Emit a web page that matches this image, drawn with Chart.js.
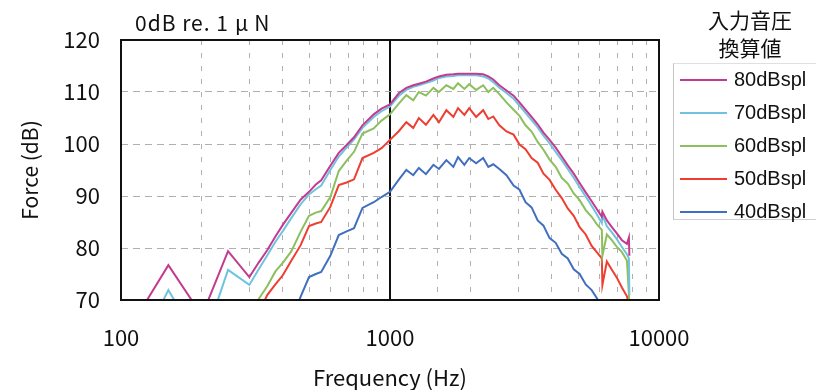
<!DOCTYPE html>
<html>
<head>
<meta charset="utf-8">
<script src="https://cdn.jsdelivr.net/npm/chart.js"></script>
<style>
  body { margin: 0; background: #fff; }
  #wrap { position: relative; width: 817px; height: 390px; font-family: "Noto Sans CJK JP", "Liberation Sans", sans-serif; color: #111; }
  #chart { position: absolute; left: 0; top: 0; }
  .ttl { position: absolute; left: 135px; top: 9px; font-size: 21px; line-height: 26px; letter-spacing: 1px; white-space: nowrap; }
  .ttl b { font-weight: normal; padding: 0 5px 0 6px; }
  .lgt { position: absolute; left: 690px; width: 120px; text-align: center; font-size: 21px; line-height: 28px; }
  .lgbox { position: absolute; left: 673px; top: 63px; width: 142px; height: 155px; border-left: 1px solid #c4c4c4; border-top: 1px solid #e0e0e0; border-bottom: 1px solid #d0d0d0; }
  .row { position: absolute; left: 6px; height: 24px; }
  .row i { position: absolute; left: 0; top: 11px; width: 47px; height: 2px; }
  .row span { position: absolute; left: 54px; top: -2px; font-size: 20px; line-height: 26px; font-family: "Liberation Sans", sans-serif; }
</style>
</head>
<body>
<div id="wrap">
  <canvas id="chart" width="817" height="390"></canvas>
  <div class="ttl">0dB re. 1<b>μ</b>N</div>
  <div class="lgt" style="top:5px">入力音圧</div>
  <div class="lgt" style="top:33px">換算値</div>
  <div class="lgbox" id="legend"></div>
</div>
<script>
// frequency points (Hz)
const freq = [120,150,200,250,300,325,350,375,400,430,
  465,500,530,555,600,645,690,735,790,870,
  930,1000,1080,1150,1220,1280,1360,1450,1520,1620,
  1720,1790,1890,1970,2090,2220,2320,2420,2550,2710,
  2880,3030,3190,3360,3540,3720,3920,4130,4350,4580,
  4820,5070,5340,5620,5870,6130,6160,6400,6680,6970,
  7280,7600,7730,7760];

const spl80 = [68.5,76.7,67,79.4,74.4,77.2,79.6,82.2,84.5,86.8,
  89.3,90.8,92.2,93,95.8,98.3,99.8,101.3,103.6,105.7,
  106.8,107.6,109.8,110.8,111.3,111.6,112,112.6,113,113.3,
  113.4,113.5,113.5,113.5,113.5,113.4,113,112.4,111.3,110.3,
  109.3,108,106.6,105.2,103.8,102.2,100.8,99.3,97.6,95.9,
  94.3,92.5,90.7,89,87.5,86,87,85.3,84,82.8,
  81.5,80.8,82,78.5];

const spl70 = [62,71.9,61,75.8,72.9,75.9,78.6,81.2,83.3,85.8,
  88.4,90.3,91.3,92,95,97.6,99.3,100.9,103.1,105.2,
  106.3,107.2,109.3,110.4,111,111.3,111.7,112.2,112.7,113,
  113.1,113.2,113.2,113.2,113.2,113,112.6,111.9,110.8,109.8,
  108.7,107.4,106,104.6,103.2,101.6,100.1,98.5,96.9,95.2,
  93.5,91.7,89.9,88.1,86.5,84.8,86.3,84.2,83,81.7,
  80.2,78.8,78,71];

const spl60 = [null,null,null,null,66.5,70.2,72.7,75.5,77.2,79.4,
  83.1,86.2,86.8,87.1,89.8,94.8,96.8,98.5,102,103,
  104.5,105.7,107.8,109.4,108.4,110,109.3,110.8,110,111.3,
  110.6,111.7,110.6,111.5,110.4,111.3,110,110.8,109.6,108,
  106.6,105.4,103.6,102.4,100.4,98.9,97,95.6,93.5,92.4,
  90.5,89.2,87.3,86,84.6,83.5,78.5,82.6,81.5,80.2,
  79.2,77.6,71,69];

const spl50 = [null,null,null,null,64,67.5,71,73,74.8,77.6,
  80.5,84.2,84.7,85,87.9,92.1,92.6,93.2,97.3,98.3,
  99.2,100.8,102.5,104.2,103.1,105,103.7,105.6,104.2,106.5,
  105.2,106.9,105.6,106.9,105.2,106.5,104.8,105.3,103.6,102.4,
  101.8,99.9,99,97.3,96.4,94.3,93.1,91.2,89.6,87.6,
  86.2,84,82.6,80.4,79.2,78,72.9,77.4,75.8,74.3,
  72.4,70.7,69,68];

const spl40 = [null,null,null,null,null,null,null,null,null,66,
  70.6,74.4,75,75.4,78.5,82.5,83.2,83.8,87.7,88.8,
  89.8,90.8,93.2,95,94,95.4,94.2,96,95.2,96.9,
  95.6,97.5,96,97.3,96.3,97.3,95.6,96.1,95.2,94,
  92,91.2,88.8,87.8,85.3,84.3,81.9,81,78.9,78,
  75.9,75,73,71.9,70.4,68.5,null,null,null,null,
  null,null,null,null];

const labels = ['80dBspl','70dBspl','60dBspl','50dBspl','40dBspl'];
const colors = ['#c23b8e','#70c3e0','#8cbf5e','#ee3e31','#416fbf'];
const series = [spl80, spl70, spl60, spl50, spl40];

const FONT = '"Noto Sans CJK JP", "Liberation Sans", sans-serif';

// legend (html)
const lg = document.getElementById('legend');
labels.forEach((l, i) => {
  const r = document.createElement('div');
  r.className = 'row';
  r.style.top = (4 + i * 33) + 'px';
  r.innerHTML = '<i style="background:' + colors[i] + '"></i><span>' + l + '</span>';
  lg.appendChild(r);
});

const frame = {
  id: 'frame',
  afterDatasetsDraw(chart) {
    const a = chart.chartArea, c = chart.ctx;
    c.save();
    c.strokeStyle = '#111';
    c.lineWidth = 2;
    c.strokeRect(a.left, a.top, a.right - a.left, a.bottom - a.top);
    c.restore();
  }
};

const isDecade = v => Math.abs(Math.log10(v) - Math.round(Math.log10(v))) < 1e-9;

new Chart(document.getElementById('chart'), {
  type: 'line',
  data: {
    datasets: series.map((s, i) => ({
      label: labels[i],
      data: freq.map((f, j) => ({ x: f, y: s[j] })),
      borderColor: colors[i],
      borderWidth: 2,
      pointRadius: 0,
      tension: 0,
      spanGaps: false
    }))
  },
  options: {
    responsive: false,
    animation: false,
    layout: { padding: { left: 0, right: 158, top: 40, bottom: 0 } },
    plugins: { legend: { display: false }, tooltip: { enabled: false } },
    scales: {
      x: {
        type: 'logarithmic',
        min: 100, max: 10000,
        afterFit(s) { s.height = 90; },
        grid: {
          drawTicks: false,
          color: c => isDecade(c.tick.value) ? (c.tick.value === 1000 ? '#111' : 'rgba(0,0,0,0)') : '#b0b0b0',
          lineWidth: c => c.tick.value === 1000 ? 2 : 1
        },
        border: { display: false, dash: c => (c.tick && c.tick.value === 1000) ? [] : [5, 8] },
        ticks: {
          autoSkip: false, maxRotation: 0, padding: 24,
          color: '#111',
          font: { family: FONT, size: 22 },
          callback: v => isDecade(v) ? String(v) : ''
        },
        title: { display: true, text: 'Frequency (Hz)', color: '#111', font: { family: FONT, size: 22, lineHeight: 1 }, padding: { top: 1, bottom: 1 } }
      },
      y: {
        min: 70, max: 120,
        afterFit(s) { s.width = 121; },
        grid: {
          drawTicks: false,
          color: c => (c.tick.value === 70 || c.tick.value === 120) ? 'rgba(0,0,0,0)' : '#b0b0b0'
        },
        border: { display: false, dash: [7, 5] },
        ticks: { stepSize: 10, padding: 21, color: '#111', font: { family: FONT, size: 22 } },
        title: { display: true, text: 'Force (dB)', color: '#111', font: { family: FONT, size: 21, lineHeight: 1 }, padding: { top: 20, bottom: 0 } }
      }
    }
  },
  plugins: [frame]
});
</script>
</body>
</html>
